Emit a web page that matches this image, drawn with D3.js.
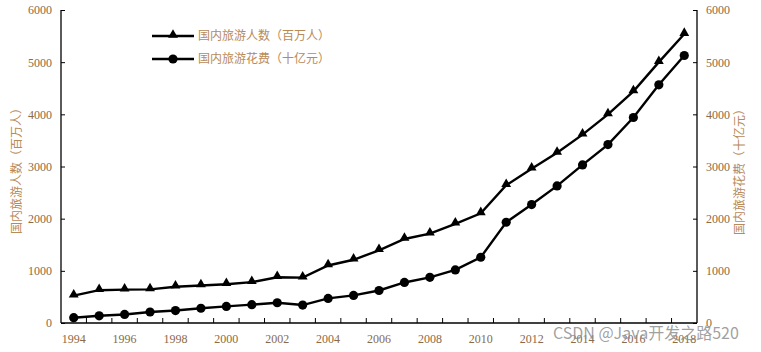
<!DOCTYPE html>
<html>
<head>
<meta charset="utf-8">
<script src="https://cdn.jsdelivr.net/npm/d3@7"></script>
<style>
  body { margin: 0; background: #fff; }
  svg { display: block; }
  .tick text { font-family: "Liberation Serif", "Times New Roman", serif; font-size: 12px; fill: #8a6a48; }
  .cn { font-family: "Noto Sans CJK SC", sans-serif; font-size: 12px; fill: #b88a58; }
</style>
</head>
<body>
<script>
const WIDTH = 761, HEIGHT = 352;
const PLOT = {left: 61, right: 697, top: 10, bottom: 323};

const years = d3.range(1994, 2019);
const yearLabels = years.filter(y => y % 2 === 0);
// 国内旅游人数 (百万人)
const tourists = [524, 629, 640, 644, 695, 719, 744, 784, 878, 870, 1102, 1212, 1394, 1610, 1712, 1902, 2103, 2641, 2957, 3262, 3611, 4000, 4440, 5001, 5539];
// 国内旅游花费 (十亿元)
const spending = [102, 138, 164, 211, 239, 283, 318, 352, 388, 344, 471, 529, 623, 777, 875, 1018, 1260, 1931, 2271, 2628, 3031, 3420, 3939, 4566, 5128];
const yTicks = [0, 1000, 2000, 3000, 4000, 5000, 6000];
const seriesNames = ["国内旅游人数（百万人）", "国内旅游花费（十亿元）"];

const svg = d3.select("body").append("svg").attr("width", WIDTH).attr("height", HEIGHT);

const x = d3.scaleBand().domain(years).range([PLOT.left, PLOT.right]).padding(0);
const cx = d => x(d) + x.bandwidth() / 2;
const yL = d3.scaleLinear().domain([0, 6000]).range([PLOT.bottom, PLOT.top]);
const yR = d3.scaleLinear().domain([0, 6000]).range([PLOT.bottom, PLOT.top]);

// left axis
const leftAxis = svg.append("g").attr("transform", "translate(" + PLOT.left + ",0)")
  .call(d3.axisLeft(yL).tickValues(yTicks).tickSize(-4).tickPadding(9).tickFormat(d3.format("d")));
// right axis
const rightAxis = svg.append("g").attr("transform", "translate(" + PLOT.right + ",0)")
  .call(d3.axisRight(yR).tickValues(yTicks).tickSize(-4).tickPadding(9).tickFormat(d3.format("d")));
// bottom axis: labels at category centres, ticks on the boundaries
const bottomAxis = svg.append("g").attr("transform", "translate(0," + PLOT.bottom + ")")
  .call(d3.axisBottom(x).tickValues(yearLabels).tickSize(0).tickPadding(11));
bottomAxis.selectAll(".tick text").attr("dy", "0.71em");
bottomAxis.append("g").selectAll("line")
  .data(years.slice(1))
  .join("line")
    .attr("x1", d => x(d)).attr("x2", d => x(d))
    .attr("y1", 0).attr("y2", -5)
    .attr("stroke", "#000");

[leftAxis, rightAxis, bottomAxis].forEach(g => {
  g.select(".domain").attr("stroke", "#000").attr("stroke-width", 1.3);
  g.selectAll(".tick line").attr("stroke", "#000");
});
leftAxis.select(".domain").attr("d", "M0," + PLOT.top + "V" + PLOT.bottom);
rightAxis.select(".domain").attr("d", "M0," + PLOT.top + "V" + PLOT.bottom);
bottomAxis.select(".domain").attr("d", "M" + PLOT.left + ",0H" + PLOT.right);

// axis titles
svg.append("text").attr("class", "cn")
  .attr("transform", "translate(21,168) rotate(-90)")
  .attr("text-anchor", "middle")
  .text(seriesNames[0]);
svg.append("text").attr("class", "cn")
  .attr("transform", "translate(744,169) rotate(-90)")
  .attr("text-anchor", "middle")
  .text(seriesNames[1]);

// lines
const lineL = d3.line().x((d, i) => cx(years[i])).y(d => yL(d));
const lineR = d3.line().x((d, i) => cx(years[i])).y(d => yR(d));
svg.append("path").attr("d", lineL(tourists)).attr("fill", "none").attr("stroke", "#000").attr("stroke-width", 2.4);
svg.append("path").attr("d", lineR(spending)).attr("fill", "none").attr("stroke", "#000").attr("stroke-width", 2.4);

const tri = d3.symbol().type(d3.symbolTriangle).size(42);
svg.append("g").selectAll("path")
  .data(tourists)
  .join("path")
    .attr("transform", (d, i) => "translate(" + cx(years[i]) + "," + (yL(d) - 1) + ")")
    .attr("d", tri())
    .attr("fill", "#000");
svg.append("g").selectAll("circle")
  .data(spending)
  .join("circle")
    .attr("cx", (d, i) => cx(years[i]))
    .attr("cy", d => yR(d))
    .attr("r", 4.6)
    .attr("fill", "#000");

// legend
const legend = svg.append("g").attr("transform", "translate(152,36)");
[0, 1].forEach(i => {
  const g = legend.append("g").attr("transform", "translate(0," + i * 23 + ")");
  g.append("line").attr("x1", 0).attr("x2", 42).attr("stroke", "#000").attr("stroke-width", 2.4);
  if (i === 0) g.append("path").attr("transform", "translate(21,-1)").attr("d", tri()).attr("fill", "#000");
  else g.append("circle").attr("cx", 21).attr("r", 4.6).attr("fill", "#000");
  g.append("text").attr("class", "cn").attr("x", 46).attr("dy", "0.35em").text(seriesNames[i]);
});

// watermark
svg.append("text")
  .attr("x", 553).attr("y", 339)
  .attr("font-family", "\"Noto Sans CJK SC\", sans-serif")
  .attr("font-size", 16)
  .attr("fill", "#8f8f8f")
  .attr("fill-opacity", 0.85)
  .text("CSDN @Java开发之路520");
</script>
</body>
</html>
